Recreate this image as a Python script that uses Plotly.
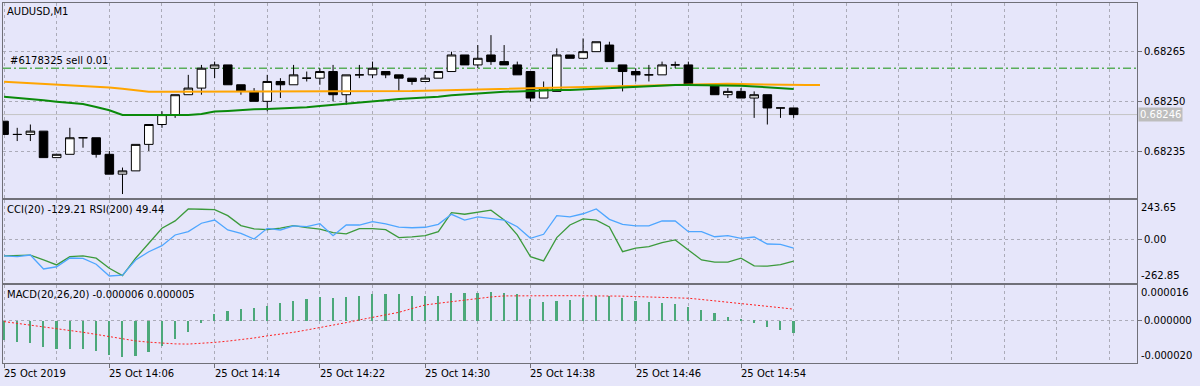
import plotly.graph_objects as go
import pandas as pd

# ---------------- data ----------------
symbol_title = "AUDUSD,M1"
times = pd.date_range("2019-10-25 13:58", periods=61, freq="min")

opens = [0.68244, 0.68240, 0.68240, 0.68241, 0.68233, 0.68234, 0.68239, 0.68239, 0.68234, 0.68228,
         0.68229, 0.68237, 0.68243, 0.68246, 0.68252, 0.68254, 0.68260, 0.68261, 0.68255, 0.68253,
         0.68250, 0.68256, 0.68255, 0.68257, 0.68257, 0.68259, 0.68252, 0.68258, 0.68258, 0.68259,
         0.68258, 0.68257, 0.68256, 0.68257, 0.68259, 0.68264, 0.68261, 0.68264, 0.68262, 0.68261,
         0.68259, 0.68251, 0.68253, 0.68264, 0.68263, 0.68265, 0.68267, 0.68261, 0.68259, 0.68258,
         0.68258, 0.68261, 0.68261, 0.68255, 0.68255, 0.68252, 0.68253, 0.68251, 0.68252, 0.68248,
         0.68248]
highs = [0.68244, 0.68242, 0.68243, 0.68241, 0.68234, 0.68242, 0.68239, 0.68239, 0.68235, 0.68230,
         0.68237, 0.68243, 0.68247, 0.68252, 0.68258, 0.68261, 0.68262, 0.68261, 0.68255, 0.68254,
         0.68258, 0.68257, 0.68261, 0.68259, 0.68260, 0.68261, 0.68258, 0.68261, 0.68262, 0.68259,
         0.68258, 0.68257, 0.68258, 0.68259, 0.68265, 0.68264, 0.68267, 0.68270, 0.68267, 0.68262,
         0.68259, 0.68256, 0.68266, 0.68264, 0.68269, 0.68268, 0.68268, 0.68261, 0.68260, 0.68261,
         0.68262, 0.68262, 0.68262, 0.68255, 0.68255, 0.68254, 0.68254, 0.68253, 0.68252, 0.68248,
         0.68248]
lows = [0.68240, 0.68238, 0.68238, 0.68233, 0.68233, 0.68234, 0.68236, 0.68233, 0.68228, 0.68222,
        0.68229, 0.68235, 0.68242, 0.68245, 0.68252, 0.68252, 0.68257, 0.68255, 0.68252, 0.68250,
        0.68247, 0.68251, 0.68255, 0.68256, 0.68255, 0.68250, 0.68249, 0.68257, 0.68257, 0.68257,
        0.68253, 0.68255, 0.68256, 0.68257, 0.68259, 0.68261, 0.68260, 0.68261, 0.68261, 0.68258,
        0.68250, 0.68251, 0.68253, 0.68263, 0.68263, 0.68265, 0.68262, 0.68253, 0.68256, 0.68256,
        0.68258, 0.68260, 0.68255, 0.68255, 0.68252, 0.68251, 0.68251, 0.68245, 0.68243, 0.68245,
        0.68245]
closes = [0.68240, 0.68240, 0.68241, 0.68233, 0.68234, 0.68239, 0.68239, 0.68234, 0.68228, 0.68229,
          0.68237, 0.68243, 0.68246, 0.68252, 0.68254, 0.68260, 0.68261, 0.68255, 0.68253, 0.68250,
          0.68256, 0.68255, 0.68258, 0.68257, 0.68259, 0.68252, 0.68258, 0.68258, 0.68260, 0.68258,
          0.68257, 0.68256, 0.68257, 0.68259, 0.68264, 0.68261, 0.68263, 0.68262, 0.68261, 0.68258,
          0.68251, 0.68254, 0.68264, 0.68263, 0.68265, 0.68268, 0.68262, 0.68259, 0.68258, 0.68258,
          0.68261, 0.68261, 0.68255, 0.68255, 0.68252, 0.68253, 0.68251, 0.68252, 0.68248, 0.68248,
          0.68246]

# orange moving average (shifted 2 bars forward -> 63 points)
ma_orange = [0.682559, 0.682557, 0.682555, 0.682554, 0.682552, 0.682550, 0.682548, 0.682545, 0.682542, 0.682538,
             0.682534, 0.682529, 0.682529, 0.682529, 0.682529, 0.682529, 0.682529, 0.682529, 0.682529, 0.682529,
             0.682529, 0.682529, 0.682529, 0.682529, 0.682529, 0.682529, 0.682529, 0.682529, 0.682529, 0.682529,
             0.682530, 0.682531, 0.682532, 0.682533, 0.682534, 0.682535, 0.682536, 0.682537, 0.682538, 0.682539,
             0.682539, 0.682540, 0.682541, 0.682542, 0.682543, 0.682544, 0.682546, 0.682547, 0.682548, 0.682549,
             0.682550, 0.682551, 0.682552, 0.682553, 0.682554, 0.682553, 0.682552, 0.682551, 0.682550, 0.682549,
             0.682549, 0.682549, 0.682549]
# green moving average
ma_green = [0.682514, 0.682511, 0.682507, 0.682503, 0.682499, 0.682495, 0.682492, 0.682483, 0.682473, 0.682459,
            0.682459, 0.682459, 0.682459, 0.682459, 0.682459, 0.682462, 0.682469, 0.682471, 0.682474, 0.682476,
            0.682477, 0.682478, 0.682480, 0.682482, 0.682486, 0.682489, 0.682492, 0.682496, 0.682499, 0.682503,
            0.682507, 0.682509, 0.682512, 0.682514, 0.682518, 0.682521, 0.682524, 0.682526, 0.682529, 0.682530,
            0.682532, 0.682533, 0.682534, 0.682534, 0.682536, 0.682538, 0.682540, 0.682542, 0.682544, 0.682546,
            0.682548, 0.682549, 0.682549, 0.682549, 0.682549, 0.682548, 0.682547, 0.682545, 0.682542, 0.682539,
            0.682537]

cci = [-97.6, -94.6, -93.3, -122.0, -152.5, -101.9, -97.6, -111.6, -172.6, -217.8,
       -111.6, -20.1, 71.4, 115.9, 189.1, 187.3, 184.8, 148.2, 87.2, 67.1,
       62.8, 71.4, 87.2, 75.0, 65.3, 44.5, 36.6, 68.9, 68.9, 62.8,
       14.0, 18.3, 26.2, 50.6, 166.5, 156.8, 169.0, 181.2, 122.0, 30.5,
       -101.9, -128.1, 14.0, 91.5, 128.1, 120.2, 79.3, -71.4, -50.6, -40.9,
       -16.5, 0.0, -61.0, -122.0, -136.0, -136.0, -111.6, -158.6, -160.4, -150.7,
       -129.21]
rsi = [48.78, 48.72, 48.86, 47.68, 47.87, 48.61, 48.58, 48.08, 47.09, 47.17,
       48.44, 49.14, 49.65, 50.55, 50.83, 51.54, 51.81, 50.97, 50.69, 50.21,
       51.11, 50.97, 51.31, 51.25, 51.50, 50.49, 51.39, 51.39, 51.67, 51.48,
       51.22, 51.16, 51.20, 51.45, 52.29, 51.81, 52.07, 51.96, 51.81, 51.25,
       50.27, 50.61, 52.18, 52.07, 52.34, 52.74, 51.87, 51.45, 51.31, 51.31,
       51.73, 51.73, 50.83, 50.83, 50.40, 50.49, 50.27, 50.38, 49.79, 49.76,
       49.44]
macd_main = [-9.0e-6, -9.8e-6, -10.3e-6, -12.2e-6, -13.5e-6, -13.5e-6, -13.5e-6, -14.3e-6, -16.2e-6, -17.3e-6,
             -16.7e-6, -14.6e-6, -11.7e-6, -8.7e-6, -5.4e-6, -0.8e-6, 3.2e-6, 4.8e-6, 5.7e-6, 6.2e-6,
             7.3e-6, 8.4e-6, 9.5e-6, 10.3e-6, 11.6e-6, 10.8e-6, 11.6e-6, 12.1e-6, 12.9e-6, 12.9e-6,
             12.7e-6, 12.0e-6, 12.1e-6, 12.0e-6, 13.2e-6, 13.2e-6, 13.5e-6, 14.0e-6, 13.5e-6, 12.7e-6,
             10.5e-6, 8.9e-6, 9.7e-6, 10.0e-6, 10.8e-6, 12.0e-6, 12.1e-6, 10.8e-6, 9.7e-6, 8.9e-6,
             8.4e-6, 8.1e-6, 6.5e-6, 5.2e-6, 3.7e-6, 2.1e-6, 0.5e-6, -0.8e-6, -3.0e-6, -4.3e-6,
             -5.9e-6]
macd_signal = [-0.3e-6, -1.1e-6, -1.9e-6, -2.7e-6, -3.5e-6, -4.4e-6, -5.4e-6, -6.4e-6, -7.5e-6, -8.5e-6,
               -9.5e-6, -10.1e-6, -10.6e-6, -10.9e-6, -11.0e-6, -10.7e-6, -10.2e-6, -9.6e-6, -9.0e-6, -8.1e-6,
               -7.1e-6, -6.3e-6, -5.4e-6, -4.3e-6, -3.2e-6, -2.0e-6, -0.8e-6, 0.5e-6, 1.8e-6, 3.0e-6,
               4.1e-6, 5.9e-6, 7.6e-6, 8.4e-6, 9.2e-6, 10.0e-6, 10.8e-6, 11.4e-6, 11.9e-6, 12.0e-6,
               12.0e-6, 12.0e-6, 12.0e-6, 12.0e-6, 12.0e-6, 12.0e-6, 12.0e-6, 11.8e-6, 11.6e-6, 11.4e-6,
               11.2e-6, 11.0e-6, 10.8e-6, 10.2e-6, 9.6e-6, 9.0e-6, 8.4e-6, 7.7e-6, 7.0e-6, 6.3e-6,
               5.6e-6]

order_price = 0.68260
order_label = "#6178325 sell 0.01"
bid_price = 0.68246
price_ticks = [0.68235, 0.68250, 0.68265]
cci_label = "CCI(20) -129.21 RSI(200) 49.44"
macd_label = "MACD(20,26,20) -0.000006 0.000005"
cci_top, cci_bottom = 243.65, -262.85
macd_top_label, macd_bottom_label = "0.000016", "-0.000020"

# ---------------- styling ----------------
BG = "#E6E6FA"
FRAME = "#707078"
GRID = "#ABABB8"
FONT = "DejaVu Sans"

n = len(closes)
xs = list(range(n))
xs_ma = list(range(len(ma_orange)))
label_pos = list(range(0, n, 8))
tick_labels = []
for k, p in enumerate(label_pos):
    t = times[p]
    tick_labels.append(t.strftime("%d %b %Y") if k == 0 else t.strftime("%d %b %H:%M"))

fig = go.Figure()

fig.add_trace(go.Candlestick(
    x=xs, open=opens, high=highs, low=lows, close=closes,
    xaxis="x3", yaxis="y3",
    increasing=dict(line=dict(color="black", width=1), fillcolor="white"),
    decreasing=dict(line=dict(color="black", width=1), fillcolor="black"),
    whiskerwidth=0, hoverinfo="skip",
))
fig.add_trace(go.Scatter(x=xs_ma, y=ma_orange, mode="lines", xaxis="x3", yaxis="y3",
                         line=dict(color="#FFA500", width=2), hoverinfo="skip"))
fig.add_trace(go.Scatter(x=xs, y=ma_green, mode="lines", xaxis="x3", yaxis="y3",
                         line=dict(color="#0A8A0A", width=2), hoverinfo="skip"))

fig.add_trace(go.Scatter(x=xs, y=cci, mode="lines", xaxis="x2", yaxis="y2",
                         line=dict(color="#3C9A3C", width=1.3), hoverinfo="skip"))
fig.add_trace(go.Scatter(x=xs, y=rsi, mode="lines", xaxis="x2", yaxis="y4",
                         line=dict(color="#4EA6FF", width=1.3), hoverinfo="skip"))

fig.add_trace(go.Bar(x=xs, y=macd_main, xaxis="x", yaxis="y", width=0.13,
                     marker=dict(color="#4CA87A", line=dict(width=0)), hoverinfo="skip"))
fig.add_trace(go.Scatter(x=xs, y=macd_signal, mode="lines", xaxis="x", yaxis="y",
                         line=dict(color="#FF2020", width=1, dash="2px,2px"), hoverinfo="skip"))

xr = [-0.08, 86.09]
xcommon = dict(range=xr, showline=True, mirror=True, linecolor=FRAME, linewidth=1,
               zeroline=False, tickmode="array", tickvals=label_pos,
               showgrid=True, gridcolor=GRID, griddash="3px,3px", gridwidth=1,
               minor=dict(tick0=0, dtick=4, showgrid=True, gridcolor=GRID, griddash="3px,3px", ticks=""),
               fixedrange=True)
ycommon = dict(side="right", showline=True, mirror=True, linecolor=FRAME, linewidth=1,
               zeroline=False, ticks="outside", ticklen=4, tickcolor=FRAME,
               showgrid=True, gridcolor=GRID, griddash="3px,3px", gridwidth=1,
               tickfont=dict(family=FONT, size=10, color="black"), fixedrange=True)

fig.update_layout(
    width=1200, height=386,
    margin=dict(l=3, r=63, t=3, b=23),
    paper_bgcolor=BG, plot_bgcolor=BG,
    showlegend=False,
    font=dict(family=FONT, size=10, color="black"),
    bargap=0,
    boxgap=0.07,
    xaxis=dict(**xcommon, anchor="y", ticks="outside", ticklen=4, tickcolor=FRAME, showticklabels=False),
    xaxis2=dict(**xcommon, anchor="y2", matches="x", ticks="", showticklabels=False),
    xaxis3=dict(**xcommon, anchor="y3", matches="x", ticks="", showticklabels=False,
                rangeslider=dict(visible=False)),
    yaxis=dict(**ycommon, domain=[0.0, 0.2167], anchor="x", range=[-0.0000200, 0.0000171],
               tickmode="array", tickvals=[0.0], ticktext=["0.000000"]),
    yaxis2=dict(**ycommon, domain=[0.2222, 0.4528], anchor="x2", range=[cci_bottom, cci_top],
                tickmode="array", tickvals=[0.0], ticktext=["0.00"]),
    yaxis4=dict(overlaying="y2", anchor="x2", range=[46.5, 53.5], visible=False, fixedrange=True),
    yaxis3=dict(**ycommon, domain=[0.4583, 1.0], anchor="x3", range=[0.682208, 0.682797],
                tickmode="array", tickvals=price_ticks, ticktext=[f"{v:.5f}" for v in price_ticks]),
)

# horizontal lines: order level (dash-dot) and bid (solid gray)
fig.add_shape(type="line", xref="x3 domain", yref="y3", x0=0, x1=1, y0=order_price, y1=order_price,
              line=dict(color="#5AAE5A", width=1.5, dash="8px,3px,2px,3px"), layer="below")
fig.add_shape(type="line", xref="x3 domain", yref="y3", x0=0, x1=1, y0=bid_price, y1=bid_price,
              line=dict(color="#C4C4C4", width=1), layer="below")

ann = []
ann.append(dict(text=symbol_title, xref="paper", yref="paper", x=0, y=1, xanchor="left", yanchor="top",
                xshift=2, yshift=-1, showarrow=False, font=dict(family=FONT, size=10, color="black")))
ann.append(dict(text=order_label, xref="paper", yref="y3", x=0, y=order_price, xanchor="left", yanchor="bottom",
                xshift=5, yshift=0, showarrow=False, font=dict(family=FONT, size=10, color="black")))
ann.append(dict(text=f"{bid_price:.5f}", xref="paper", yref="y3", x=1, y=bid_price,
                xanchor="left", yanchor="middle", xshift=1, showarrow=False, bgcolor="#BDBDBD",
                borderpad=1, font=dict(family=FONT, size=10, color="white")))
ann.append(dict(text=cci_label, xref="paper", yref="y2 domain", x=0, y=1, xanchor="left", yanchor="top",
                xshift=2, yshift=-2, showarrow=False, font=dict(family=FONT, size=10, color="black")))
ann.append(dict(text=macd_label, xref="paper", yref="y domain", x=0, y=1, xanchor="left", yanchor="top",
                xshift=2, yshift=-2, showarrow=False, font=dict(family=FONT, size=10, color="black")))
for txt, yref, yv, ya in [(f"{cci_top:.2f}", "y2 domain", 1, "top"), (f"{cci_bottom:.2f}", "y2 domain", 0, "bottom"),
                          (macd_top_label, "y domain", 1, "top"), (macd_bottom_label, "y domain", 0, "bottom")]:
    ann.append(dict(text=txt, xref="paper", yref=yref, x=1, y=yv, xanchor="left", yanchor=ya,
                    xshift=2, showarrow=False, font=dict(family=FONT, size=10, color="black")))
for p, txt in zip(label_pos, tick_labels):
    ann.append(dict(text=txt, xref="x", yref="paper", x=p, y=0, xanchor="left", yanchor="top",
                    xshift=-2, yshift=-3, showarrow=False, font=dict(family=FONT, size=10, color="black")))
fig.update_layout(annotations=ann)

fig.write_html("out.html", config={"displayModeBar": False},
               post_script="document.body.style.margin='0';document.body.style.background='#E6E6FA';")
